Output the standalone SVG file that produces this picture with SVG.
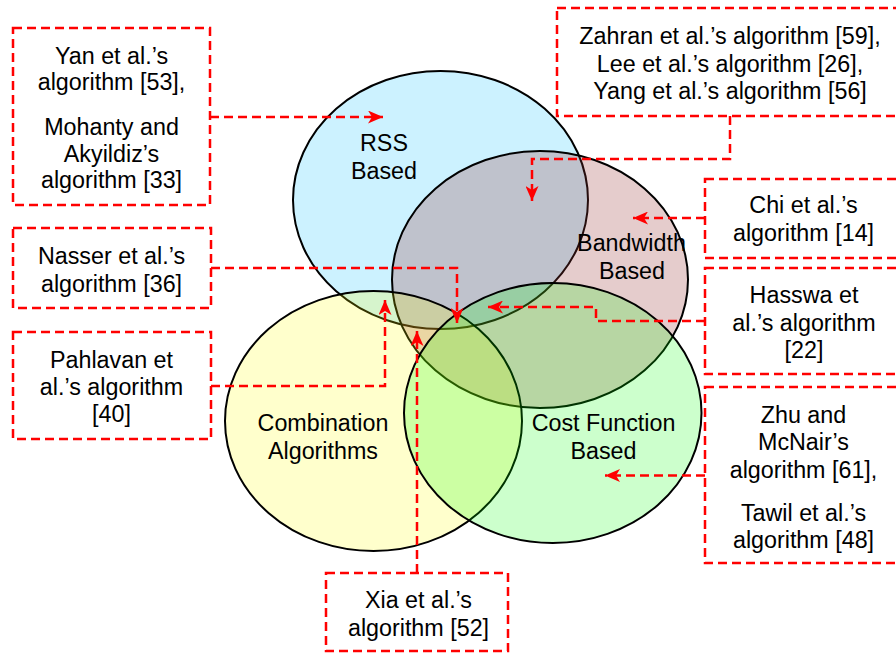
<svg xmlns="http://www.w3.org/2000/svg" width="896" height="653" viewBox="0 0 896 653">
  <style>
    .set { stroke: #000; stroke-width: 2; }
    .lbl { font-family: "Liberation Sans", Arial, sans-serif; font-size: 23.3px; fill: #000; text-anchor: middle; }
    .box { fill: #fff; stroke: #ff0000; stroke-width: 2.5; stroke-dasharray: 9 5; }
    .link { fill: none; stroke: #ff0000; stroke-width: 2.5; stroke-dasharray: 9 5; marker-end: url(#head); }
  </style>
  <defs>
    <marker id="head" viewBox="0 0 15 13" markerWidth="15" markerHeight="13" refX="15" refY="6.5" orient="auto" markerUnits="userSpaceOnUse">
      <path d="M0,0 L15,6.5 L0,13 L4,6.5 Z" fill="#ff0000"/>
    </marker>
  </defs>

  <rect width="896" height="653" fill="#fff"/>

  <!-- Venn sets -->
  <g id="set-rss">
    <ellipse class="set" cx="440.5" cy="200" rx="147.5" ry="129" fill="#ccf2ff"/>
  </g>
  <g id="set-bandwidth">
    <ellipse class="set" cx="540" cy="279.5" rx="148" ry="128.5" fill="#993333" fill-opacity="0.25"/>
  </g>
  <g id="set-combination">
    <ellipse class="set" cx="373.5" cy="421" rx="148.5" ry="130" fill="#ffff00" fill-opacity="0.2"/>
  </g>
  <g id="set-cost">
    <ellipse class="set" cx="552.75" cy="413" rx="148.75" ry="130" fill="#00ff00" fill-opacity="0.2"/>
  </g>

  <!-- set labels -->
  <g id="label-rss" class="lbl">
    <text x="384" y="151">RSS</text>
    <text x="384" y="178.5">Based</text>
  </g>
  <g id="label-bandwidth" class="lbl">
    <text x="631.5" y="251">Bandwidth</text>
    <text x="632" y="278.5">Based</text>
  </g>
  <g id="label-combination" class="lbl">
    <text x="323" y="431">Combination</text>
    <text x="323" y="458.5">Algorithms</text>
  </g>
  <g id="label-cost" class="lbl">
    <text x="603.5" y="431">Cost Function</text>
    <text x="603.5" y="458.5">Based</text>
  </g>

  <!-- algorithm boxes -->
  <g id="box-yan">
    <rect class="box" x="13" y="28" width="197" height="177"/>
    <g class="lbl">
      <text x="111.5" y="63.5">Yan et al.’s</text>
      <text x="111.5" y="90">algorithm [53],</text>
      <text x="111.5" y="135">Mohanty and</text>
      <text x="111.5" y="161.5">Akyildiz’s</text>
      <text x="111.5" y="188">algorithm [33]</text>
    </g>
  </g>
  <g id="box-zahran">
    <rect class="box" x="557" y="8" width="360" height="108"/>
    <g class="lbl">
      <text x="730" y="44">Zahran et al.’s algorithm [59],</text>
      <text x="730" y="71.5">Lee et al.’s algorithm [26],</text>
      <text x="730" y="99">Yang et al.’s algorithm [56]</text>
    </g>
  </g>
  <g id="box-chi">
    <rect class="box" x="705" y="179" width="210" height="79"/>
    <g class="lbl">
      <text x="803.5" y="213">Chi et al.’s</text>
      <text x="803.5" y="241">algorithm [14]</text>
    </g>
  </g>
  <g id="box-hasswa">
    <rect class="box" x="705" y="268" width="210" height="106"/>
    <g class="lbl">
      <text x="804" y="303">Hasswa et</text>
      <text x="804" y="330.5">al.’s algorithm</text>
      <text x="804" y="358">[22]</text>
    </g>
  </g>
  <g id="box-zhu">
    <rect class="box" x="705" y="387" width="210" height="176"/>
    <g class="lbl">
      <text x="803.5" y="422.5">Zhu and</text>
      <text x="803.5" y="450">McNair’s</text>
      <text x="803.5" y="477.5">algorithm [61],</text>
      <text x="803.5" y="521">Tawil et al.’s</text>
      <text x="803.5" y="548">algorithm [48]</text>
    </g>
  </g>
  <g id="box-xia">
    <rect class="box" x="326" y="573" width="182" height="78"/>
    <g class="lbl">
      <text x="418.5" y="608">Xia et al.’s</text>
      <text x="418.5" y="635.5">algorithm [52]</text>
    </g>
  </g>
  <g id="box-nasser">
    <rect class="box" x="13" y="228" width="198" height="80"/>
    <g class="lbl">
      <text x="111.5" y="264">Nasser et al.’s</text>
      <text x="111.5" y="291.5">algorithm [36]</text>
    </g>
  </g>
  <g id="box-pahlavan">
    <rect class="box" x="13" y="332" width="198" height="107"/>
    <g class="lbl">
      <text x="111.5" y="367.5">Pahlavan et</text>
      <text x="111.5" y="395">al.’s algorithm</text>
      <text x="111.5" y="422">[40]</text>
    </g>
  </g>

  <!-- connectors -->
  <g id="connectors">
    <path class="link" d="M210,117 H383"/>
    <path class="link" d="M730,116 V159 H532 V201"/>
    <path class="link" d="M705,218 H633"/>
    <path class="link" d="M705,321 H596 V307 H488"/>
    <path class="link" d="M705,475.5 H605"/>
    <path class="link" d="M417,573 V331"/>
    <path class="link" d="M211,268 H457 V323"/>
    <path class="link" d="M211,386 H385 V300"/>
  </g>
</svg>
